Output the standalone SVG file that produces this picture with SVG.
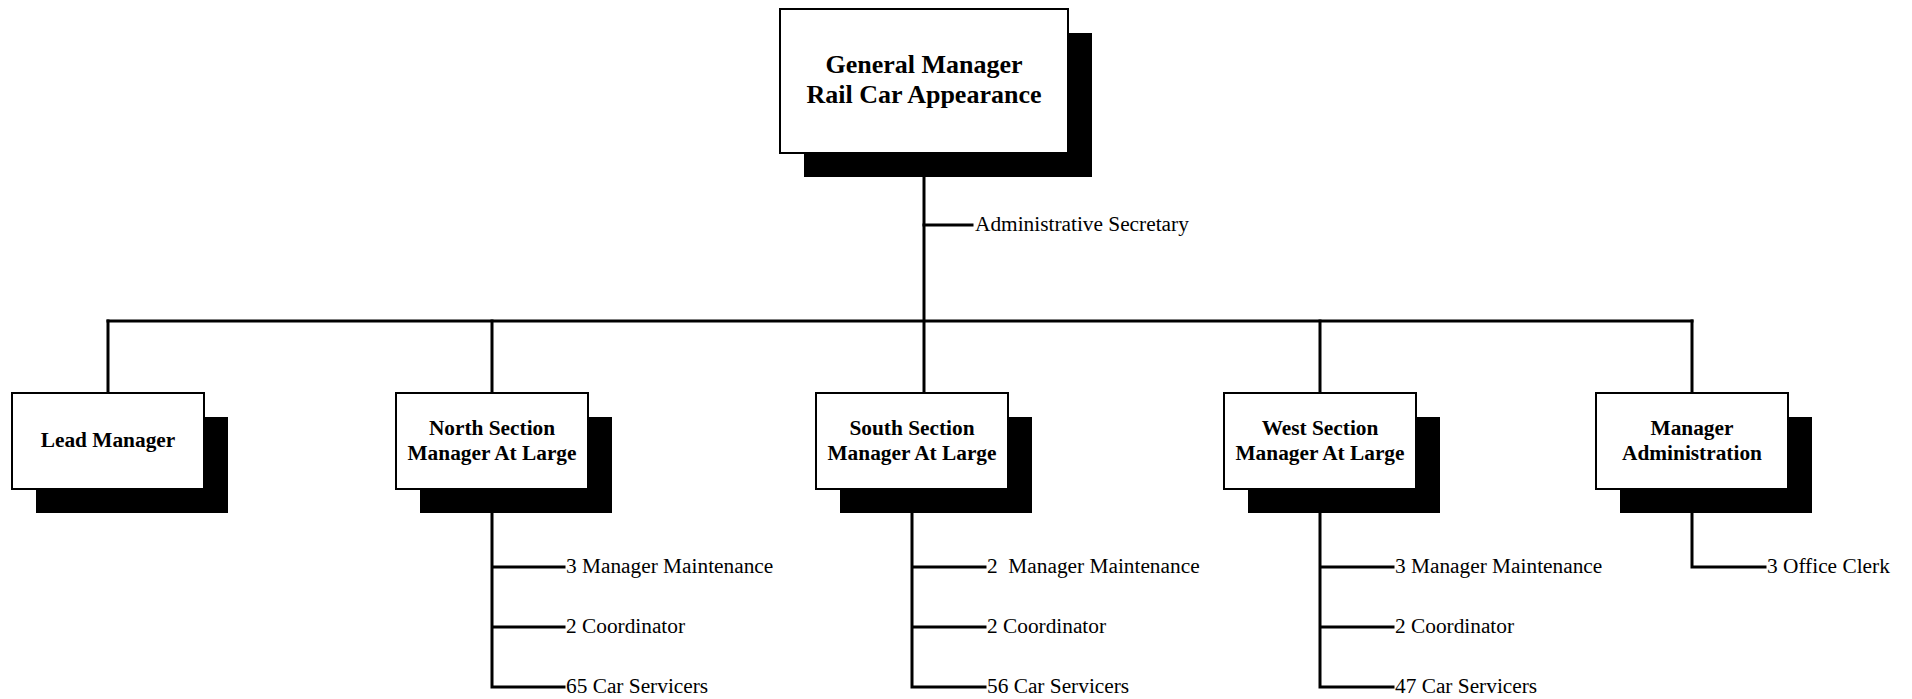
<svg xmlns="http://www.w3.org/2000/svg" width="1912" height="699" viewBox="0 0 1912 699">
  <style>
    .line { stroke: #000; stroke-width: 3; fill: none; stroke-linecap: square; }
    .shadow { fill: #000; }
    .box { fill: #fff; stroke: #000; stroke-width: 2; }
    .title { font-family: "Liberation Serif", "Times New Roman", serif; font-weight: bold; font-size: 21.33px; text-anchor: middle; fill: #000; }
    .top-title { font-family: "Liberation Serif", "Times New Roman", serif; font-weight: bold; font-size: 26px; text-anchor: middle; fill: #000; }
    .staff { font-family: "Liberation Serif", "Times New Roman", serif; font-size: 21.33px; fill: #000; }
  </style>
  <rect width="1912" height="699" fill="#fff"/>

  <!-- reporting lines -->
  <g id="connectors">
    <path class="line" d="M924 153 V393"/>
    <path class="line" d="M924 225 H972"/>
    <path class="line" d="M108 321 H1692"/>
    <path class="line" d="M108 321 V393 M492 321 V393 M1320 321 V393 M1692 321 V393"/>
    <!-- North section staff -->
    <path class="line" d="M492 489 V687 H564 M492 567 H564 M492 627 H564"/>
    <!-- South section staff -->
    <path class="line" d="M912 489 V687 H985 M912 567 H985 M912 627 H985"/>
    <!-- West section staff -->
    <path class="line" d="M1320 489 V687 H1393 M1320 567 H1393 M1320 627 H1393"/>
    <!-- Administration staff -->
    <path class="line" d="M1692 489 V567 H1765"/>
  </g>

  <g id="general-manager">
    <rect class="shadow" x="804" y="33" width="288" height="144"/>
    <rect class="box" x="780" y="9" width="288" height="144"/>
    <text class="top-title" x="924" y="73">General Manager</text>
    <text class="top-title" x="924" y="103">Rail Car Appearance</text>
  </g>
  <text id="admin-secretary" class="staff" x="975" y="231">Administrative Secretary</text>

  <g id="lead-manager">
    <rect class="shadow" x="36" y="417" width="192" height="96"/>
    <rect class="box" x="12" y="393" width="192" height="96"/>
    <text class="title" x="108" y="447">Lead Manager</text>
  </g>

  <g id="north-section">
    <rect class="shadow" x="420" y="417" width="192" height="96"/>
    <rect class="box" x="396" y="393" width="192" height="96"/>
    <text class="title" x="492" y="435">North Section</text>
    <text class="title" x="492" y="460">Manager At Large</text>
  </g>
  <g id="north-staff">
    <text class="staff" x="566" y="573">3 Manager Maintenance</text>
    <text class="staff" x="566" y="633">2 Coordinator</text>
    <text class="staff" x="566" y="693">65 Car Servicers</text>
  </g>

  <g id="south-section">
    <rect class="shadow" x="840" y="417" width="192" height="96"/>
    <rect class="box" x="816" y="393" width="192" height="96"/>
    <text class="title" x="912" y="435">South Section</text>
    <text class="title" x="912" y="460">Manager At Large</text>
  </g>
  <g id="south-staff">
    <text class="staff" x="987" y="573" xml:space="preserve">2  Manager Maintenance</text>
    <text class="staff" x="987" y="633">2 Coordinator</text>
    <text class="staff" x="987" y="693">56 Car Servicers</text>
  </g>

  <g id="west-section">
    <rect class="shadow" x="1248" y="417" width="192" height="96"/>
    <rect class="box" x="1224" y="393" width="192" height="96"/>
    <text class="title" x="1320" y="435">West Section</text>
    <text class="title" x="1320" y="460">Manager At Large</text>
  </g>
  <g id="west-staff">
    <text class="staff" x="1395" y="573">3 Manager Maintenance</text>
    <text class="staff" x="1395" y="633">2 Coordinator</text>
    <text class="staff" x="1395" y="693">47 Car Servicers</text>
  </g>

  <g id="manager-administration">
    <rect class="shadow" x="1620" y="417" width="192" height="96"/>
    <rect class="box" x="1596" y="393" width="192" height="96"/>
    <text class="title" x="1692" y="435">Manager</text>
    <text class="title" x="1692" y="460">Administration</text>
  </g>
  <text id="office-clerk" class="staff" x="1767" y="573">3 Office Clerk</text>
</svg>
